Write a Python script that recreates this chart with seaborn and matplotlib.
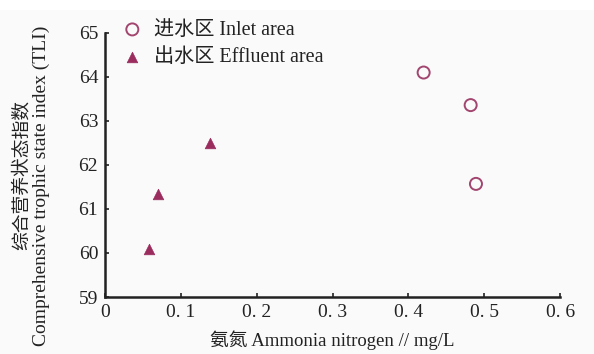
import matplotlib
matplotlib.use("Agg")
import matplotlib.pyplot as plt
from matplotlib.patches import Rectangle
import seaborn as sns
import pandas as pd

# Ammonia nitrogen (mg/L) vs. comprehensive trophic state index
inlet_nh3 = [0.42, 0.482, 0.489]
inlet_tli = [64.1, 63.36, 61.57]
effluent_nh3 = [0.058, 0.07, 0.138]
effluent_tli = [60.08, 61.34, 62.51]

group_names = ["进水区 Inlet area", "出水区 Effluent area"]
x_ticks = [0, 0.1, 0.2, 0.3, 0.4, 0.5, 0.6]
x_tick_labels = ["0", "0. 1", "0. 2", "0. 3", "0. 4", "0. 5", "0. 6"]
y_ticks = [59, 60, 61, 62, 63, 64, 65]

df = pd.DataFrame({
    "nh3": inlet_nh3 + effluent_nh3,
    "tli": inlet_tli + effluent_tli,
    "group": [group_names[0]] * len(inlet_nh3) + [group_names[1]] * len(effluent_nh3),
})

sns.set_style("ticks")
plt.rcParams["font.family"] = ["Liberation Serif", "Noto Sans CJK SC"]
plt.rcParams["axes.unicode_minus"] = False

ink = "#222222"
color = "#9a2c5e"
bg = "#fafafa"
fig = plt.figure(figsize=(5.94, 3.54), dpi=100, facecolor=bg)
# plain white band along the top edge
fig.patches.append(Rectangle((0, 1 - 10 / 354), 1, 10 / 354, transform=fig.transFigure,
                             facecolor="white", edgecolor="none", zorder=-1))
ax = fig.add_axes([0.177, 0.161, 0.766, 0.746])
ax.set_facecolor(bg)

inlet = df[df.group == group_names[0]]
effl = df[df.group == group_names[1]]
sns.scatterplot(data=inlet, x="nh3", y="tli", marker="o", s=75,
                facecolor="none", edgecolor="#a2456f", linewidth=1.4,
                label=group_names[0], ax=ax)
sns.scatterplot(data=effl, x="nh3", y="tli", marker="^", s=58,
                color=color, edgecolor=color, linewidth=0.5,
                label=group_names[1], ax=ax)

ax.set_xlim(0, 0.6)
ax.set_ylim(59, 65)
ax.set_xticks(x_ticks)
ax.set_xticklabels(x_tick_labels)
ax.set_yticks(y_ticks)
ax.tick_params(axis="both", direction="in", length=3, width=1.2,
               labelsize=14, colors=ink, pad=5)
for s in ["top", "right"]:
    ax.spines[s].set_visible(False)
for s in ["left", "bottom"]:
    ax.spines[s].set_linewidth(1.8)
    ax.spines[s].set_color(ink)

ax.set_xlabel("氨氮 Ammonia nitrogen // mg/L", fontsize=13.5, color=ink, labelpad=7)
ax.set_ylabel("")
fig.text(22 / 594, 1 - 175 / 354, "综合营养状态指数", rotation=90, fontsize=13.5,
         color=ink, ha="center", va="center")
fig.text(41 / 594, 1 - 186 / 354, "Comprehensive trophic state index (TLI)",
         rotation=90, fontsize=14, color=ink, ha="center", va="center")

leg = ax.legend(loc="upper left", bbox_to_anchor=(0.0, 1.1), frameon=False,
                fontsize=14.5, handletextpad=0.45, labelspacing=0.4,
                borderaxespad=0.3, handlelength=1.3)
for t in leg.get_texts():
    t.set_color(ink)

fig.savefig("out.png", dpi=100, facecolor=fig.get_facecolor())
